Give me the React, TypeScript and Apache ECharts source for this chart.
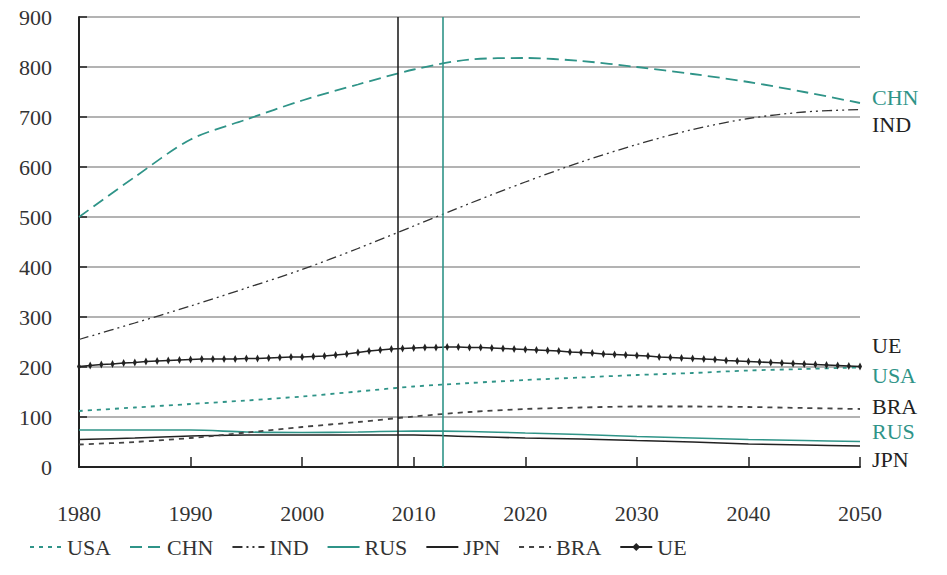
import React, { useEffect, useRef } from "react";
import * as echarts from "echarts";

const years5 = [1980, 1985, 1990, 1995, 2000, 2005, 2010, 2015, 2020, 2025, 2030, 2035, 2040, 2045, 2050];
const usa = [112, 119, 126, 133, 141, 151, 161, 168, 174, 179, 184, 188, 193, 196, 199];
const chn = [500, 580, 655, 695, 733, 765, 795, 815, 818, 812, 800, 786, 770, 750, 728];
const ind = [255, 288, 322, 358, 395, 437, 482, 527, 570, 610, 645, 675, 697, 710, 715];
const rus = [74, 74, 74, 70, 69, 70, 72, 71, 68, 65, 61, 58, 55, 53, 51];
const jpn = [55, 58, 62, 64, 64, 64, 64, 61, 58, 56, 53, 50, 46, 44, 42];
const bra = [45, 50, 58, 69, 80, 90, 101, 110, 116, 119, 121, 121, 120, 118, 116];
const ueYears = Array.from({ length: 71 }, (_, i) => 1980 + i);
const ue = [
  201, 203, 205, 206, 208, 209, 211, 212, 213, 214,
  215, 216, 216, 216, 216, 217, 217, 218, 219, 220,
  220, 221, 222, 224, 226, 229, 232, 234, 236, 237,
  238, 239, 239, 240, 240, 239, 239, 238, 237, 236,
  235, 234, 233, 232, 230, 229, 228, 226, 225, 224,
  223, 222, 220, 219, 218, 217, 216, 215, 213, 212,
  211, 210, 209, 208, 207, 206, 205, 204, 203, 202, 201,
];
const markYears = [2008.6, 2012.6];
const legendNames = ["USA", "CHN", "IND", "RUS", "JPN", "BRA", "UE"];
const yTicks = { min: 0, max: 900, interval: 100 };
const xTicks = { min: 1980, max: 2050, interval: 10 };

const TEAL = "#2f9488";
const DARK = "#222222";
const FONT = "Liberation Serif";
const FS = 22;

const pairs = (xs: number[], ys: number[]) => xs.map((x, i) => [x, ys[i]]);

export default function App() {
  const ref = useRef<HTMLDivElement>(null);
  useEffect(() => {
    if (!ref.current) return;
    const chart = echarts.init(ref.current, null, { renderer: "svg" });
    const endLabel = (text: string, color: string, dy: number) => ({
      show: true,
      formatter: text,
      color,
      fontFamily: FONT,
      fontSize: FS,
      distance: 12,
      offset: [0, dy],
    });
    chart.setOption({
      animation: false,
      textStyle: { fontFamily: FONT },
      grid: { left: 79, right: 87, top: 17, bottom: 108 },
      legend: {
        left: 24,
        bottom: 12,
        itemWidth: 32,
        itemHeight: 10,
        itemGap: 18,
        textStyle: { fontFamily: FONT, fontSize: FS, color: "#333" },
        data: legendNames.map((n) =>
          n === "UE" ? { name: n } : { name: n, itemStyle: { opacity: 0 } }
        ),
      },
      xAxis: {
        type: "value",
        min: xTicks.min,
        max: xTicks.max,
        interval: xTicks.interval,
        axisLine: { lineStyle: { color: DARK, width: 2 } },
        axisTick: { inside: true, length: 10, lineStyle: { color: DARK, width: 1.5 } },
        axisLabel: {
          margin: 35,
          fontSize: FS,
          color: "#333",
          fontFamily: FONT,
          formatter: (v: number) => String(v),
        },
        splitLine: { show: false },
      },
      yAxis: {
        type: "value",
        min: yTicks.min,
        max: yTicks.max,
        interval: yTicks.interval,
        axisLine: { show: true, lineStyle: { color: DARK, width: 2 } },
        axisTick: { show: true, inside: true, length: 8, lineStyle: { color: DARK, width: 1.5 } },
        axisLabel: { margin: 27, fontSize: FS, color: "#333", fontFamily: FONT },
        splitLine: { lineStyle: { color: "#9a9a9a", width: 1.5 } },
      },
      series: [
        {
          name: "USA",
          type: "line",
          data: pairs(years5, usa),
          smooth: 0.3,
          symbol: "none",
          itemStyle: { color: TEAL },
          lineStyle: { color: TEAL, width: 1.8, type: [4, 5] },
          endLabel: endLabel("USA", TEAL, 8),
        },
        {
          name: "CHN",
          type: "line",
          data: pairs(years5, chn),
          smooth: 0.3,
          symbol: "none",
          itemStyle: { color: TEAL },
          lineStyle: { color: TEAL, width: 1.8, type: [12, 6] },
          endLabel: endLabel("CHN", TEAL, -6),
        },
        {
          name: "IND",
          type: "line",
          data: pairs(years5, ind),
          smooth: 0.3,
          symbol: "none",
          itemStyle: { color: "#333" },
          lineStyle: { color: "#333", width: 1.3, type: [10, 4, 2, 4, 2, 4] },
          endLabel: endLabel("IND", "#222", 15),
        },
        {
          name: "RUS",
          type: "line",
          data: pairs(years5, rus),
          smooth: 0.3,
          symbol: "none",
          itemStyle: { color: TEAL },
          lineStyle: { color: TEAL, width: 1.6 },
          endLabel: endLabel("RUS", TEAL, -10),
          markLine: {
            silent: true,
            symbol: ["none", "none"],
            label: { show: false },
            lineStyle: { color: TEAL, width: 1.6, type: "solid" },
            data: [{ xAxis: markYears[1] }],
          },
        },
        {
          name: "JPN",
          type: "line",
          data: pairs(years5, jpn),
          smooth: 0.3,
          symbol: "none",
          itemStyle: { color: DARK },
          lineStyle: { color: DARK, width: 1.6 },
          endLabel: endLabel("JPN", "#222", 13),
          markLine: {
            silent: true,
            symbol: ["none", "none"],
            label: { show: false },
            lineStyle: { color: DARK, width: 1.6, type: "solid" },
            data: [{ xAxis: markYears[0] }],
          },
        },
        {
          name: "BRA",
          type: "line",
          data: pairs(years5, bra),
          smooth: 0.3,
          symbol: "none",
          itemStyle: { color: "#444" },
          lineStyle: { color: "#444", width: 1.8, type: [5, 5] },
          endLabel: endLabel("BRA", "#222", -3),
        },
        {
          name: "UE",
          type: "line",
          data: pairs(ueYears, ue),
          symbol: "diamond",
          symbolSize: [4, 8],
          showSymbol: true,
          showAllSymbol: true,
          itemStyle: { color: DARK },
          lineStyle: { color: DARK, width: 1.6 },
          endLabel: endLabel("UE", "#222", -21),
        },
      ],
    });
    return () => chart.dispose();
  }, []);
  return <div ref={ref} style={{ width: 947, height: 575, position: "absolute", left: 0, top: 0 }} />;
}
